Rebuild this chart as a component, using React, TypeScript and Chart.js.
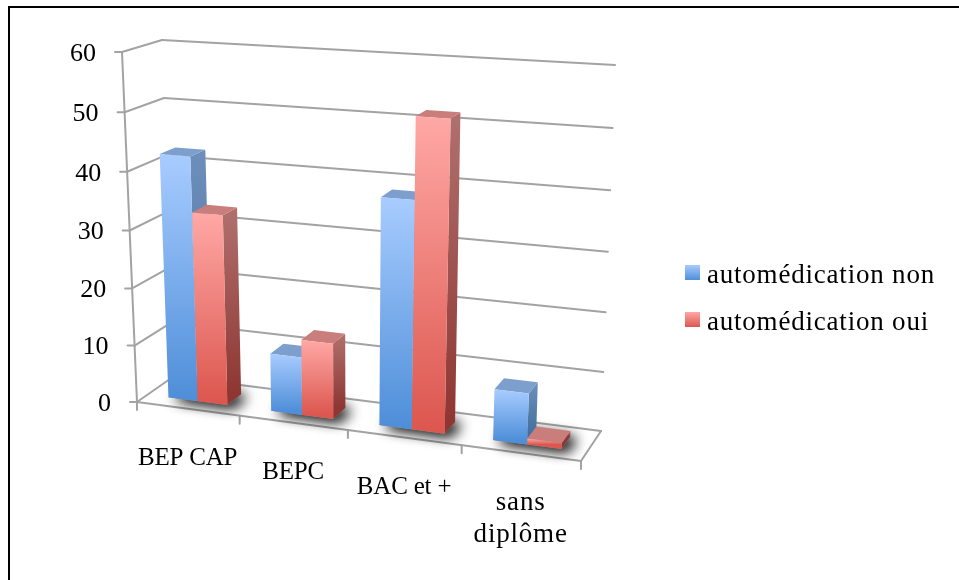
import React, { useEffect, useRef } from "react";
import { Chart, registerables } from "chart.js";

Chart.register(...registerables);

const categories: (string | string[])[] = ["BEP CAP", "BEPC", "BAC et +", ["sans", "diplôme"]];
const automedicationNon = [42.5, 10, 38.3, 8.5];
const automedicationOui = [33, 13, 51.8, 1];
const seriesNames = ["automédication non", "automédication oui"];
const yTickMax = 60;
const yTickStep = 10;

type Pt = [number, number];
// Corners of the drawn box on the page: [floor, top of the value axis]
const FRONT_LEFT: [Pt, Pt] = [[137, 402], [122, 52]];
const BACK_LEFT: [Pt, Pt] = [[173.5, 376.5], [162, 40]];
const BACK_RIGHT: [Pt, Pt] = [[601, 431], [615, 65]];
const FRONT_RIGHT: [Pt, Pt] = [[581, 461], [599, 80]];
const DEPTH_NEAR = 0.29;
const DEPTH_FAR = 0.7;

const palette = [
  { faceTop: "#A8CCFF", faceBottom: "#4F8FD9", sideTop: "#6F8FBB", sideBottom: "#43719F", top: "#7D9FCE", solid: "#7AAEEC" },
  { faceTop: "#FFA8A5", faceBottom: "#DC574F", sideTop: "#B0716E", sideBottom: "#8E3632", top: "#C97E7B", solid: "#EE7F7A" },
];
const GRID = "#A3A3A3";
const SERIF = "'Liberation Serif', serif";
const LEGEND_SPACING = "0.8px";

const lerp = (p: Pt, q: Pt, t: number): Pt => [p[0] + (q[0] - p[0]) * t, p[1] + (q[1] - p[1]) * t];

function project(a: number, h: number, d: number): Pt {
  const ax = a - 0.1 * a * (1 - a);
  const hy = h - 0.04 * h * (1 - h);
  const fl = lerp(FRONT_LEFT[0], FRONT_LEFT[1], hy);
  const bl = lerp(BACK_LEFT[0], BACK_LEFT[1], hy);
  const br = lerp(BACK_RIGHT[0], BACK_RIGHT[1], hy);
  const fr = lerp(FRONT_RIGHT[0], FRONT_RIGHT[1], hy);
  return lerp(lerp(fl, fr, ax), lerp(bl, br, ax), d);
}

function poly(ctx: CanvasRenderingContext2D, pts: Pt[], fill: string | CanvasGradient) {
  ctx.beginPath();
  pts.forEach((p, i) => (i ? ctx.lineTo(p[0], p[1]) : ctx.moveTo(p[0], p[1])));
  ctx.closePath();
  ctx.fillStyle = fill;
  ctx.fill();
}

function seg(ctx: CanvasRenderingContext2D, p: Pt, q: Pt) {
  ctx.beginPath();
  ctx.moveTo(p[0], p[1]);
  ctx.lineTo(q[0], q[1]);
  ctx.stroke();
}

const box3d = {
  id: "box3d",
  beforeLayout(chart: any) {
    chart.ctx.letterSpacing = LEGEND_SPACING;
  },
  beforeDraw(chart: any) {
    chart.ctx.letterSpacing = LEGEND_SPACING;
  },
  beforeDatasetsDraw(chart: any) {
    const ctx: CanvasRenderingContext2D = chart.ctx;
    const area = chart.chartArea;
    const xs = chart.scales.x;
    const ys = chart.scales.y;
    const A = (px: number) => (px - area.left) / (area.right - area.left);
    const H = (px: number) => (area.bottom - px) / (area.bottom - area.top);

    ctx.save();
    ctx.letterSpacing = "0px";
    ctx.strokeStyle = GRID;
    ctx.lineWidth = 2;
    ctx.lineCap = "round";

    // value axis, walls
    seg(ctx, project(0, 0, 0), project(0, 1, 0));
    ctx.fillStyle = "#000";
    ctx.textAlign = "right";
    ctx.textBaseline = "middle";
    ctx.font = `26px ${SERIF}`;
    ys.ticks.forEach((t: any) => {
      const h = H(ys.getPixelForValue(t.value));
      const f = project(0, h, 0);
      seg(ctx, [f[0] - 7, f[1]], f);
      seg(ctx, f, project(0, h, 1));
      seg(ctx, project(0, h, 1), project(1, h, 1));
      ctx.fillText(String(t.label), f[0] - 26, f[1] + 2);
    });

    // floor
    seg(ctx, project(0, 0, 0), project(1, 0, 0));
    seg(ctx, project(1, 0, 0), project(1, 0, 1));
    const n = chart.data.labels.length;
    for (let i = 0; i <= n; i++) {
      const p = project(i / n, 0, 0);
      seg(ctx, p, [p[0], p[1] + 8]);
    }

    // category labels
    ctx.textAlign = "center";
    chart.data.labels.forEach((label: string | string[], i: number) => {
      const p = project(A(xs.getPixelForValue(i)), 0, 0);
      const lines = Array.isArray(label) ? label : [label];
      lines.forEach((line, k) => {
        const lower = Array.isArray(label);
        ctx.font = `${lower ? 27 : 25}px ${SERIF}`;
        ctx.letterSpacing = lower ? LEGEND_SPACING : "-0.2px";
        ctx.fillText(line, p[0], p[1] + 50 + k * 32);
      });
    });
    ctx.letterSpacing = "0px";

    const metas = chart.data.datasets.map((_: any, i: number) => chart.getDatasetMeta(i));

    // floor shadows
    for (let j = 0; j < n; j++) {
      const first = metas[0].data[j];
      const last = metas[metas.length - 1].data[j];
      const a0 = A(first.x - first.width / 2);
      const a1 = A(last.x + last.width / 2);
      ctx.save();
      ctx.shadowColor = "rgba(0,0,0,0.8)";
      ctx.shadowBlur = 14;
      ctx.shadowOffsetX = 6;
      ctx.shadowOffsetY = 2;
      const base: Pt[] = [project(a0, 0, DEPTH_NEAR), project(a1, 0, DEPTH_NEAR), project(a1, 0, DEPTH_FAR), project(a0, 0, DEPTH_FAR)];
      poly(ctx, base, "#999");
      poly(ctx, base, "#999");
      ctx.restore();
    }

    // bars, taken from the controller's own elements
    for (let j = 0; j < n; j++) {
      metas.forEach((meta: any, s: number) => {
        const el = meta.data[j];
        const c = palette[s];
        const a0 = A(el.x - el.width / 2);
        const a1 = A(el.x + el.width / 2);
        const h = H(el.y);
        const b = H(el.base);
        const fTL = project(a0, h, DEPTH_NEAR);
        const fTR = project(a1, h, DEPTH_NEAR);
        const fBR = project(a1, b, DEPTH_NEAR);
        const fBL = project(a0, b, DEPTH_NEAR);
        const bTR = project(a1, h, DEPTH_FAR);
        const bBR = project(a1, b, DEPTH_FAR);
        const bTL = project(a0, h, DEPTH_FAR);

        const sg = ctx.createLinearGradient(0, bTR[1], 0, bBR[1]);
        sg.addColorStop(0, c.sideTop);
        sg.addColorStop(1, c.sideBottom);
        poly(ctx, [fTR, bTR, bBR, fBR], sg);
        poly(ctx, [fTL, bTL, bTR, fTR], c.top);
        const fg = ctx.createLinearGradient(0, fTL[1], 0, fBL[1]);
        fg.addColorStop(0, c.faceTop);
        fg.addColorStop(1, c.faceBottom);
        poly(ctx, [fTL, fTR, fBR, fBL], fg);
      });
    }
    ctx.restore();
    return false;
  },
};

function swatch(c: { faceTop: string; faceBottom: string }) {
  const cv = document.createElement("canvas");
  cv.width = 15;
  cv.height = 21;
  const x = cv.getContext("2d")!;
  const g = x.createLinearGradient(0, 0, 0, 15);
  g.addColorStop(0, c.faceTop);
  g.addColorStop(1, c.faceBottom);
  x.fillStyle = g;
  x.fillRect(0, 0, 15, 15);
  return cv;
}

export default function App() {
  const ref = useRef<HTMLCanvasElement | null>(null);
  useEffect(() => {
    const chart = new Chart(ref.current as HTMLCanvasElement, {
      type: "bar",
      data: {
        labels: categories as any,
        datasets: [
          { label: seriesNames[0], data: automedicationNon, backgroundColor: palette[0].solid },
          { label: seriesNames[1], data: automedicationOui, backgroundColor: palette[1].solid },
        ],
      },
      plugins: [box3d as any],
      options: {
        responsive: false,
        animation: false,
        layout: { padding: { top: 18, right: 14, left: 0, bottom: 0 } },
        datasets: { bar: { categoryPercentage: 0.58, barPercentage: 1 } },
        scales: {
          x: { display: false },
          y: { display: false, min: 0, max: yTickMax, ticks: { stepSize: yTickStep } },
        },
        plugins: {
          tooltip: { enabled: false },
          legend: {
            position: "right",
            labels: {
              usePointStyle: true,
              pointStyleWidth: 1,
              padding: 20,
              color: "#000",
              font: { family: SERIF, size: 27 },
              generateLabels: () =>
                seriesNames.map((text, i) => ({
                  text,
                  datasetIndex: i,
                  fontColor: "#000",
                  pointStyle: swatch(palette[i]),
                  fillStyle: palette[i].solid,
                  strokeStyle: palette[i].solid,
                  lineWidth: 0,
                })),
            },
          },
        },
      } as any,
    });
    return () => chart.destroy();
  }, []);
  return (
    <div style={{ position: "absolute", left: 0, top: 0, width: 959, height: 580, overflow: "hidden" }}>
      <canvas ref={ref} width={959} height={580} style={{ display: "block" }} />
      <div
        style={{
          position: "absolute",
          left: 8,
          top: 6,
          right: 0,
          bottom: 0,
          borderTop: "2.5px solid #000",
          borderLeft: "2.5px solid #000",
          pointerEvents: "none",
        }}
      />
    </div>
  );
}
